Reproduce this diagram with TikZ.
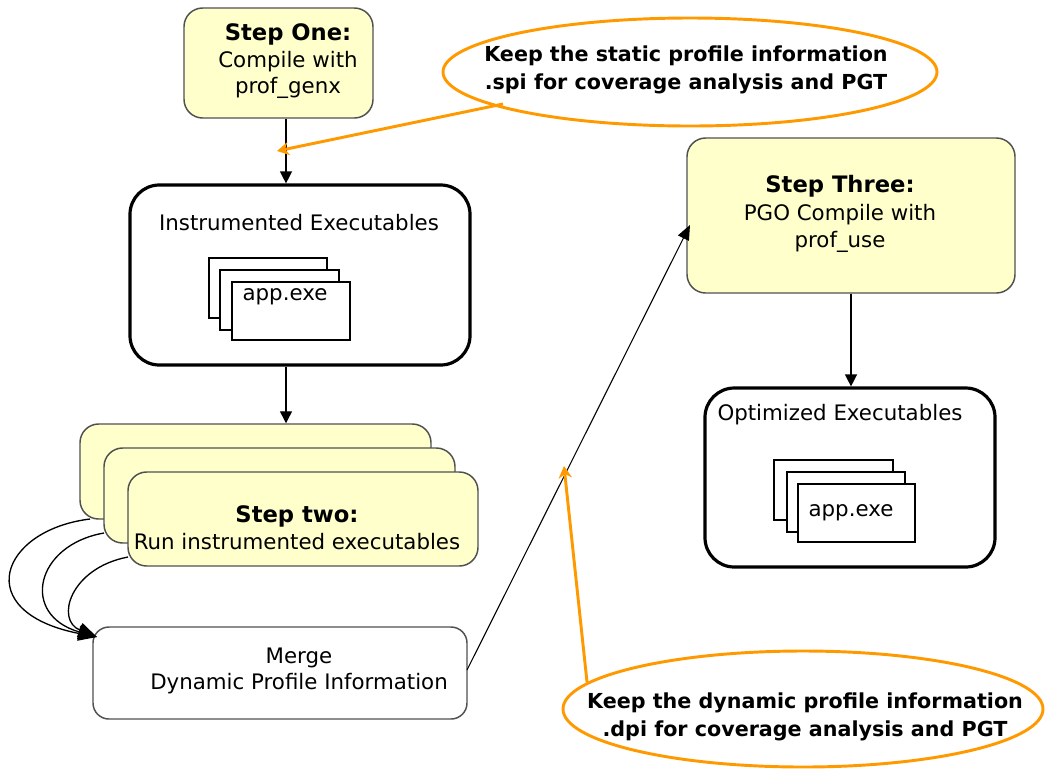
\documentclass[tikz,border=0pt]{standalone}
\usepackage{fontspec}
\setmainfont{DejaVu Sans}
\usetikzlibrary{arrows.meta,shapes.geometric}
\definecolor{stepfill}{RGB}{255,255,204}
\definecolor{stepline}{RGB}{80,80,80}
\definecolor{noteorange}{RGB}{255,153,0}
\tikzset{
  stepbox/.style={draw=stepline, line width=1.1pt, fill=stepfill, rounded corners=14pt, inner sep=0pt},
  exebox/.style={draw=black, line width=2.4pt, fill=white, rounded corners=22pt, inner sep=0pt},
  mergebox/.style={draw=stepline, line width=1.1pt, fill=white, rounded corners=12pt, inner sep=0pt},
  filebox/.style={draw=black, line width=1.2pt, fill=white, inner sep=0pt},
  note/.style={draw=noteorange, line width=2.2pt, ellipse, inner sep=0pt},
  txt/.style={font=\fontsize{16}{19.5}\selectfont, inner sep=0pt, align=center},
  boldtxt/.style={font=\fontsize{15.5}{20.5}\selectfont\bfseries, inner sep=0pt, align=center},
  flow/.style={draw=black, line width=1pt, -{Triangle[length=9pt,width=9pt]}},
  thinflow/.style={draw=black, line width=0.8pt, -{Triangle[length=11pt,width=9pt]}},
  loopflow/.style={draw=black, line width=1pt, -{Triangle[length=14pt,width=11pt]}},
  noteflow/.style={draw=noteorange, line width=2.2pt, -{Stealth[length=9pt,width=10pt]}},
}
\begin{document}
\begin{tikzpicture}[x=0.75pt,y=-0.75pt]
\useasboundingbox (0,0) rectangle (1046,769);
\fill[white] (0,0) rectangle (1046,769);

% Step One
\node[stepbox, minimum width=189*0.75pt, minimum height=110*0.75pt] (s1) at (278.5,63) {};
\node[txt] (s1t) at (288,61) {{\fontsize{17}{19}\selectfont\bfseries Step One:}\\[0.5pt]Compile with\\prof\_genx};

% Note 1
\node[note, minimum width=494*0.75pt, minimum height=108*0.75pt] (n1) at (690,72) {};
\node[boldtxt] (n1t) at (686,70) {Keep the static profile information\\.spi for coverage analysis and PGT};

% Instrumented executables
\node[exebox, minimum width=340*0.75pt, minimum height=180*0.75pt] (inst) at (300,275) {};
\node[txt] (instt) at (299,223) {Instrumented Executables};
\node[filebox, minimum width=118*0.75pt, minimum height=60*0.75pt] (if1) at (268,288) {};
\node[filebox, minimum width=119*0.75pt, minimum height=60*0.75pt] (if2) at (279.5,300) {};
\node[filebox, minimum width=118*0.75pt, minimum height=58*0.75pt] (if3) at (291,311) {};
\node[txt] (ift) at (285,297) {app.exe};

% Step two stack
\node[stepbox, minimum width=351*0.75pt, minimum height=95*0.75pt] (s2a) at (255.5,471.5) {};
\node[stepbox, minimum width=351*0.75pt, minimum height=95*0.75pt] (s2b) at (279.5,495.5) {};
\node[stepbox, minimum width=350*0.75pt, minimum height=94*0.75pt] (s2c) at (303,519) {};
\node[txt] (s2t) at (297,528) {{\fontsize{17}{19}\selectfont\bfseries Step two:}\\[1pt]Run instrumented executables};

% Merge
\node[mergebox, minimum width=374*0.75pt, minimum height=92*0.75pt] (merge) at (280,673) {};
\node[txt] (mt) at (299,671) {Merge\\[0pt]Dynamic Profile Information};

% Step Three
\node[stepbox, minimum width=328*0.75pt, minimum height=155*0.75pt] (s3) at (851,215.5) {};
\node[txt] (s3t) at (840,214) {{\fontsize{17}{19}\selectfont\bfseries Step Three:}\\[1pt]PGO Compile with\\[1pt]prof\_use};

% Optimized executables
\node[exebox, minimum width=290*0.75pt, minimum height=179*0.75pt] (opt) at (850,477.5) {};
\node[txt] (optt) at (840,415) {Optimized Executables};
\node[filebox, minimum width=119*0.75pt, minimum height=60*0.75pt] (of1) at (833.5,490) {};
\node[filebox, minimum width=118*0.75pt, minimum height=60*0.75pt] (of2) at (846,502) {};
\node[filebox, minimum width=117*0.75pt, minimum height=58*0.75pt] (of3) at (856.5,513) {};
\node[txt] (oft) at (851,513) {app.exe};

% Note 2
\node[note, minimum width=480*0.75pt, minimum height=116*0.75pt] (n2) at (803,709) {};
\node[boldtxt] (n2t) at (805,717) {Keep the dynamic profile information\\.dpi for coverage analysis and PGT};

% connectors
\draw[flow] (s1.south -| 286,0) -- (inst.north -| 286,0);
\draw[flow] (inst.south -| 286,0) -- (s2a.north -| 286,0);
\draw[flow] (s3.south -| 851,0) -- (opt.north -| 851,0);

\coordinate (mtip) at (97,637);
\coordinate (a1) at (90,519);
\coordinate (a2) at (104,533);
\coordinate (a3) at (128,557);
\draw[loopflow] (a1) .. controls (0,530) and (-30,612) .. (mtip);
\draw[loopflow] (a2) .. controls (35,545) and (20,615) .. (mtip);
\draw[loopflow] (a3) .. controls (70,568) and (55,620) .. (mtip);

\coordinate (mout) at (467,670);
\coordinate (s3in) at (690,225);
\draw[thinflow] (mout) -- (s3in);

\coordinate (n1tail) at (503,104);
\coordinate (n1tip) at (277,151);
\draw[noteflow] (n1tail) -- (n1tip);
\coordinate (n2tail) at (587,682);
\coordinate (n2tip) at (564,466);
\draw[noteflow] (n2tail) -- (n2tip);
\end{tikzpicture}
\end{document}
